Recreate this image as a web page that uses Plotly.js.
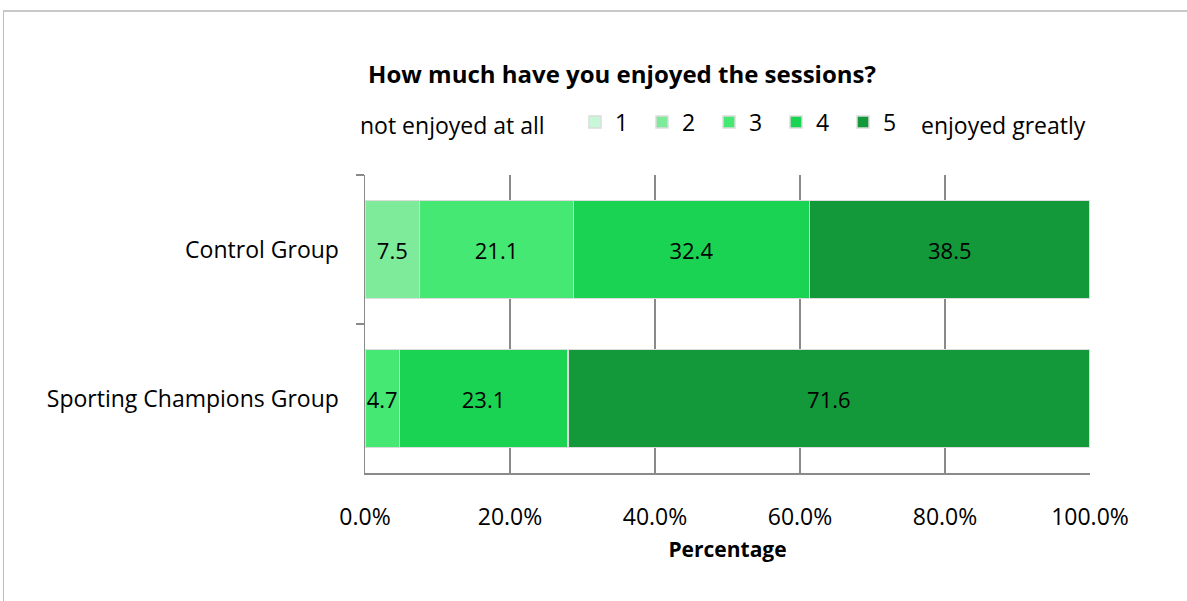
<!DOCTYPE html>
<html><head><meta charset="utf-8">
<script src="https://cdn.plot.ly/plotly-3.0.1.min.js"></script>
<style>
html,body{margin:0;padding:0;background:#fff;}
#wrap{position:relative;width:1187px;height:601px;}
#chart{width:1187px;height:601px;}
#frame{position:absolute;left:3px;top:10px;width:1190px;height:600px;border-left:1px solid #bdbdbd;border-top:2px solid #c8c8c8;pointer-events:none;}
</style></head>
<body><div id="wrap"><div id="chart"></div><div id="frame"></div></div>
<script>
const categories = ["Control Group", "Sporting Champions Group"];
const seriesNames = ["1", "2", "3", "4", "5"];
const s1 = [0, 0];
const s2 = [7.5, 0];
const s3 = [21.1, 4.7];
const s4 = [32.4, 23.1];
const s5 = [38.5, 71.6];
const colors = ["#c6f7d6", "#7deb9a", "#44e873", "#1bd352", "#14993a"];
const xTicks = [0, 20, 40, 60, 80, 100];
const xTickText = ["0.0%", "20.0%", "40.0%", "60.0%", "80.0%", "100.0%"];

const FONT = "'Open Sans', Lato, sans-serif";
const FS = 23;
const allSeries = [s1, s2, s3, s4, s5];
const traces = allSeries.map((vals, i) => ({
  type: "bar",
  orientation: "h",
  name: seriesNames[i],
  y: categories,
  x: vals,
  text: vals.map(v => v > 0 ? v.toFixed(1) : ""),
  textposition: "inside",
  insidetextanchor: "middle",
  textangle: 0,
  constraintext: "none",
  textfont: {family: FONT, size: 22, color: "#000"},
  marker: {color: colors[i], line: {color: "#dcdcdc", width: 1.5}},
  hoverinfo: "name+text"
}));

const layout = {
  width: 1187, height: 601,
  margin: {l: 365, r: 97, t: 175, b: 128},
  paper_bgcolor: "#fff", plot_bgcolor: "#fff",
  barmode: "stack", barnorm: "percent", bargap: 0.34,
  font: {family: FONT, size: FS, color: "#000"},
  title: {text: "<b>How much have you enjoyed the sessions?</b>", font: {family: FONT, size: 24, color: "#000"},
          xref: "container", x: 0.524, xanchor: "center", yref: "container", y: 1 - 75/601, yanchor: "middle"},
  xaxis: {range: [0, 100], tickvals: xTicks, ticktext: xTickText, showgrid: true, gridcolor: "#8a8a8a", gridwidth: 1.5,
          showline: true, linecolor: "#8a8a8a", linewidth: 1.5, ticks: "", zeroline: false, ticklabelstandoff: 23,
          tickfont: {size: FS},
          title: {text: "<b>Percentage</b>", font: {size: 21}, standoff: 11}},
  yaxis: {categoryorder: "array", categoryarray: categories, autorange: "reversed", showgrid: false,
          showline: true, linecolor: "#8a8a8a", linewidth: 1.5, ticks: "outside", tickson: "boundaries",
          ticklen: 8, tickcolor: "#8a8a8a", tickwidth: 1.5, ticklabelstandoff: 20, tickfont: {size: FS}},
  showlegend: true,
  legend: {orientation: "h", x: (575 - 365) / 725, xanchor: "left", y: 1 + (175 - 122) / 298, yanchor: "middle",
           entrywidth: 22, entrywidthmode: "pixels", font: {size: FS}, traceorder: "normal", bgcolor: "rgba(0,0,0,0)"},
  annotations: [
    {text: "not enjoyed at all", xref: "paper", yref: "paper", x: (358 - 365) / 725, xanchor: "left",
     y: 1 + (175 - 125) / 298, yanchor: "middle", showarrow: false, font: {size: FS}},
    {text: "enjoyed greatly", xref: "paper", yref: "paper", x: (1088 - 365) / 725, xanchor: "right",
     y: 1 + (175 - 125) / 298, yanchor: "middle", showarrow: false, font: {size: FS}}
  ]
};
Plotly.newPlot("chart", traces, layout, {displayModeBar: false, staticPlot: true});
</script></body></html>
